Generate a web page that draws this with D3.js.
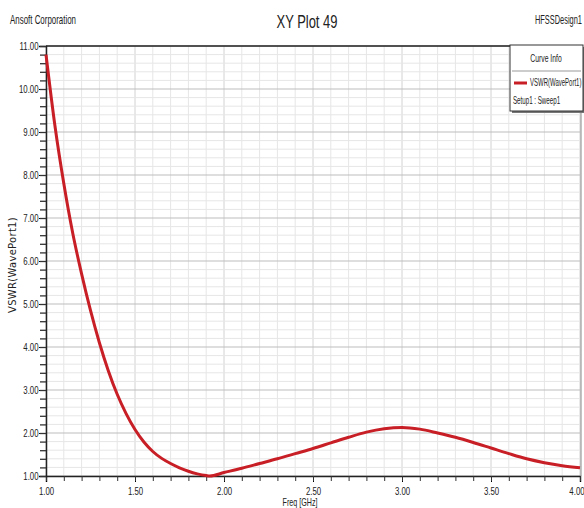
<!DOCTYPE html>
<html><head><meta charset="utf-8">
<script src="https://cdn.jsdelivr.net/npm/d3@7"></script>
<style>
body{margin:0;background:#fff;}
svg{display:block;}
text{font-family:"Liberation Sans",Arial,sans-serif;fill:#222;}
</style></head><body>
<script>
const freq = [1.00,1.05,1.10,1.15,1.20,1.25,1.30,1.35,1.40,1.45,1.50,1.55,1.60,1.65,1.70,1.75,1.80,1.85,1.90,1.92,2.00,2.10,2.20,2.30,2.40,2.50,2.60,2.70,2.80,2.90,3.00,3.10,3.20,3.30,3.40,3.50,3.60,3.70,3.80,3.90,4.00];
const vswr = [10.8,9.15,7.8,6.65,5.7,4.85,4.1,3.45,2.9,2.45,2.08,1.79,1.57,1.41,1.29,1.19,1.11,1.05,1.01,1.0,1.08,1.18,1.29,1.40,1.52,1.64,1.77,1.90,2.02,2.10,2.13,2.09,2.00,1.90,1.78,1.65,1.52,1.40,1.31,1.24,1.19];
const xTicks = [1.0,1.5,2.0,2.5,3.0,3.5,4.0];
const yTicks = [1,2,3,4,5,6,7,8,9,10,11];
const title = "XY Plot 49";
const company = "Ansoft Corporation";
const design = "HFSSDesign1";
const xTitle = "Freq [GHz]";
const yTitle = "VSWR(WavePort1)";
const legendTitle = "Curve Info";
const seriesName = "VSWR(WavePort1)";
const setupName = "Setup1 : Sweep1";

const W=584,H=508;
const svg=d3.select("body").append("svg").attr("width",W).attr("height",H);
const L=46,R=580,T=46,B=476;
const x=d3.scaleLinear().domain([1,4]).range([L,R]);
const y=d3.scaleLinear().domain([1,11]).range([B,T]);

function ctext(parent,tx,ty,str,size,sx,anchor){
  return parent.append("text").attr("transform",`translate(${tx},${ty}) scale(${sx},1)`)
    .attr("text-anchor",anchor||"start").attr("font-size",size).text(str);
}

// grid
const g=svg.append("g");
const xMinor=d3.range(1,4.0001,0.1);
const yMinor=d3.range(1,11.0001,0.2);
g.selectAll(".vx").data(xMinor).enter().append("line")
  .attr("x1",d=>x(d)).attr("x2",d=>x(d)).attr("y1",T).attr("y2",B)
  .attr("stroke",d=>Math.abs(d*2-Math.round(d*2))<1e-6?"#d2d2d2":"#e6e6e6").attr("stroke-width",1);
g.selectAll(".hy").data(yMinor).enter().append("line")
  .attr("y1",d=>y(d)).attr("y2",d=>y(d)).attr("x1",L).attr("x2",R)
  .attr("stroke",d=>Math.abs(d-Math.round(d))<1e-6?"#bdbdbd":"#e6e6e6").attr("stroke-width",1);

// axes
const xAxis=d3.axisBottom(x).tickValues(xTicks).tickFormat(d3.format(".2f")).tickSize(6).tickPadding(5);
const xa=svg.append("g").attr("transform",`translate(0,${B})`).call(xAxis);
xa.select(".domain").attr("stroke","#222").attr("stroke-width",1.5);
xa.selectAll("text").attr("font-size",11.5).attr("fill","#222").attr("transform","scale(0.68,1)");
xa.selectAll(".tick").filter(d=>d===4).select("text").attr("text-anchor","end").attr("x",6);
const xm=d3.axisBottom(x).tickValues(xMinor).tickFormat("").tickSize(5);
svg.append("g").attr("transform",`translate(0,${B})`).call(xm).call(s=>s.select(".domain").remove()).selectAll("line").attr("stroke","#333");

const yAxis=d3.axisLeft(y).tickValues(yTicks).tickFormat(d3.format(".2f")).tickSize(7).tickPadding(1);
const ya=svg.append("g").attr("transform",`translate(${L},0)`).call(yAxis);
ya.select(".domain").attr("stroke","#222").attr("stroke-width",1.5);
ya.selectAll("text").attr("font-size",11.5).attr("fill","#222").attr("x",-11).attr("transform","scale(0.68,1)");
const ym=d3.axisLeft(y).tickValues(yMinor).tickFormat("").tickSize(6);
svg.append("g").attr("transform",`translate(${L},0)`).call(ym).call(s=>s.select(".domain").remove()).selectAll("line").attr("stroke","#333").attr("stroke-width",1.3);

// top border
svg.append("line").attr("x1",L).attr("x2",R).attr("y1",T).attr("y2",T).attr("stroke","#222").attr("stroke-width",1.5);
svg.append("line").attr("x1",R+1).attr("x2",R+1).attr("y1",T).attr("y2",B).attr("stroke","#888").attr("stroke-width",1);

// curve
const line=d3.line().x((d,i)=>x(freq[i])).y(d=>y(d)).curve(d3.curveMonotoneX);
svg.append("path").datum(vswr).attr("d",line).attr("fill","none").attr("stroke","#c81e26").attr("stroke-width",3).attr("stroke-linejoin","round");

// texts
ctext(svg,307,28,title,18,0.72,"middle");
ctext(svg,10,24,company,12,0.66,"start");
ctext(svg,582,24,design,12,0.62,"end");
ctext(svg,300,506,xTitle,10.5,0.68,"middle");
svg.append("text").attr("transform","translate(16,265) rotate(-90)").attr("text-anchor","middle").attr("font-size",10)
  .style("font-family",'"DejaVu Sans",sans-serif').attr("letter-spacing",0.3).attr("fill","#333").text(yTitle);

// legend
const lg=svg.append("g");
lg.append("rect").attr("x",512).attr("y",47).attr("width",74).attr("height",66).attr("fill","#777");
lg.append("rect").attr("x",510).attr("y",45).attr("width",73).attr("height",66).attr("fill","#fff").attr("stroke","#333").attr("stroke-width",1);
lg.append("line").attr("x1",512).attr("x2",581).attr("y1",71).attr("y2",71).attr("stroke","#999");
ctext(lg,546,62,legendTitle,10,0.68,"middle");
lg.append("line").attr("x1",514).attr("x2",527).attr("y1",83).attr("y2",83).attr("stroke","#c81e26").attr("stroke-width",3);
ctext(lg,530,86,seriesName,10,0.6,"start");
ctext(lg,513,104,setupName,10,0.62,"start");
</script></body></html>
